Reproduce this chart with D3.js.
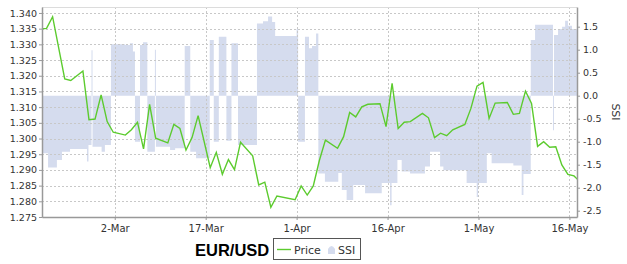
<!DOCTYPE html>
<html>
<head>
<meta charset="utf-8">
<script src="https://cdn.jsdelivr.net/npm/d3@7"></script>
<style>
  body { margin: 0; background: #fff; }
  svg { display: block; }
  text { font-family: "DejaVu Sans", sans-serif; fill: #333; }
</style>
</head>
<body>
<svg id="chart" width="627" height="264"></svg>
<script>
// EUR/USD price (daily) and SSI sentiment (step area)
const priceDates = [
  '2013-02-18', '2013-02-19', '2013-02-20', '2013-02-22', '2013-02-23', '2013-02-25',
  '2013-02-26', '2013-02-27', '2013-02-28', '2013-03-01', '2013-03-02', '2013-03-04',
  '2013-03-05', '2013-03-06', '2013-03-07', '2013-03-08', '2013-03-09', '2013-03-11',
  '2013-03-12', '2013-03-13', '2013-03-14', '2013-03-15', '2013-03-16', '2013-03-18',
  '2013-03-19', '2013-03-20', '2013-03-21', '2013-03-22', '2013-03-23', '2013-03-25',
  '2013-03-26', '2013-03-27', '2013-03-28', '2013-03-29', '2013-04-01', '2013-04-02',
  '2013-04-03', '2013-04-04', '2013-04-05', '2013-04-06', '2013-04-08', '2013-04-09',
  '2013-04-10', '2013-04-11', '2013-04-12', '2013-04-13', '2013-04-15', '2013-04-16',
  '2013-04-17', '2013-04-18', '2013-04-19', '2013-04-20', '2013-04-22', '2013-04-23',
  '2013-04-24', '2013-04-25', '2013-04-26', '2013-04-27', '2013-04-29', '2013-04-30',
  '2013-05-01', '2013-05-02', '2013-05-03', '2013-05-04', '2013-05-06', '2013-05-07',
  '2013-05-08', '2013-05-09', '2013-05-10', '2013-05-11', '2013-05-12', '2013-05-13',
  '2013-05-14', '2013-05-15', '2013-05-16', '2013-05-17', '2013-05-18'
];
const priceValues = [
  1.3349, 1.3351, 1.3388, 1.3190, 1.3185, 1.3215,
  1.3060, 1.3062, 1.3139, 1.3054, 1.3020, 1.3011,
  1.3028, 1.3052, 1.2967, 1.3109, 1.3001, 1.2986,
  1.3045, 1.3032, 1.2963, 1.3003, 1.3073, 1.2907,
  1.2956, 1.2886, 1.2933, 1.2901, 1.2988, 1.2945,
  1.2852, 1.2861, 1.2781, 1.2817, 1.2805, 1.2849,
  1.2820, 1.2849, 1.2930, 1.2995, 1.2969, 1.3006,
  1.3083, 1.3069, 1.3101, 1.3109, 1.3111, 1.3038,
  1.3176, 1.3032, 1.3052, 1.3054, 1.3080, 1.3066,
  1.3003, 1.3017, 1.3009, 1.3028, 1.3045, 1.3096,
  1.3167, 1.3179, 1.3064, 1.3113, 1.3115, 1.3077,
  1.3080, 1.3151, 1.3112, 1.2975, 1.2990, 1.2972,
  1.2974, 1.2916, 1.2886, 1.2881, 1.2862
];

// SSI readings, each holds until the next one
const ssiTimes = [
  '2013-02-18T00', '2013-02-19T00', '2013-02-20T11', '2013-02-21T07', '2013-02-22T15',
  '2013-02-25T10', '2013-02-25T16', '2013-02-26T04', '2013-02-26T08', '2013-02-27T20',
  '2013-02-28T09', '2013-03-01T09', '2013-03-03T17', '2013-03-04T12', '2013-03-05T00',
  '2013-03-05T08', '2013-03-06T04', '2013-03-06T16', '2013-03-07T09', '2013-03-08T15',
  '2013-03-08T19', '2013-03-11T03', '2013-03-11T23', '2013-03-13T13', '2013-03-14T11',
  '2013-03-15T10', '2013-03-17T16', '2013-03-18T08', '2013-03-19T04', '2013-03-20T10',
  '2013-03-21T06', '2013-03-22T08', '2013-03-25T11', '2013-03-26T11', '2013-03-27T07',
  '2013-03-27T23', '2013-03-28T11', '2013-04-01T00', '2013-04-01T06', '2013-04-02T09',
  '2013-04-03T01', '2013-04-03T13', '2013-04-04T05', '2013-04-04T14', '2013-04-05T16',
  '2013-04-07T21', '2013-04-08T11', '2013-04-09T06', '2013-04-10T08', '2013-04-12T07',
  '2013-04-15T01', '2013-04-16T10', '2013-04-16T16', '2013-04-17T15', '2013-04-18T08',
  '2013-04-19T17', '2013-04-22T04', '2013-04-23T00', '2013-04-24T16', '2013-04-25T05',
  '2013-04-29T01', '2013-04-30T17', '2013-04-30T22', '2013-05-02T09', '2013-05-03T04',
  '2013-05-06T18', '2013-05-08T03', '2013-05-08T10', '2013-05-09T15', '2013-05-10T08',
  '2013-05-13T07', '2013-05-13T11', '2013-05-14T03', '2013-05-14T19', '2013-05-15T07',
  '2013-05-15T18', '2013-05-16T10', '2013-05-17T06'
];
const ssiValues = [
  -1.25, -1.56, -1.40, -1.22, -1.16,
  -1.43, -1.07, 0.99, -1.11, -1.22,
  -1.07, 1.12, 1.10, 1.14, 0.96,
  -1.00, 1.10, 1.16, -1.22, 1.00,
  -1.11, -1.18, -1.14, 1.08, -1.22,
  -1.36, 1.21, -1.00, 1.28, -0.98,
  1.14, -1.07, 1.57, 1.62, 1.72,
  1.60, 1.30, 1.45, -1.00, 1.28,
  1.03, 1.08, 1.35, -1.69, -1.87,
  -1.68, -2.05, -2.27, -1.94, -2.12,
  -1.90, -2.38, -1.90, -1.40, -1.65,
  -1.69, -1.54, -1.22, -1.54, -1.62,
  -1.90, -2.20, -1.90, -1.25, -1.47,
  -1.52, -2.16, -1.70, 1.21, 1.54,
  -0.75, 1.32, 1.45, 1.50, 1.63,
  1.52, 1.45, 1.45
];

const xTicks = ['2013-03-02', '2013-03-17', '2013-04-01', '2013-04-16', '2013-05-01', '2013-05-16'];
const priceTicks = [1.275, 1.280, 1.285, 1.290, 1.295, 1.300, 1.305, 1.310, 1.315, 1.320, 1.325, 1.330, 1.335, 1.340];
const ssiTicks = [-2.5, -2.0, -1.5, -1.0, -0.5, 0.0, 0.5, 1.0, 1.5];

const parseDay = d3.timeParse('%Y-%m-%d');
const parseHour = d3.timeParse('%Y-%m-%dT%H');

const plotLeft = 42, plotRight = 577, plotTop = 7, plotBottom = 217;

const svg = d3.select('#chart');

const x = d3.scaleTime()
  .domain([new Date(2013, 1, 18), new Date(2013, 4, 17, 6)])
  .range([plotLeft, plotRight]);
const yPrice = d3.scaleLinear().domain([1.275, 1.3419]).range([plotBottom, plotTop]);
const ySsi = d3.scaleLinear().domain([-2.637, 1.928]).range([plotBottom, plotTop]);

// price closes are stamped a few hours before midnight
const priceData = priceDates.map((d, i) => ({ t: d3.timeHour.offset(parseDay(d), -6), v: priceValues[i] }));
const ssiData = ssiTimes.map((d, i) => ({ t: parseHour(d), v: ssiValues[i] }));

svg.append('defs').append('clipPath').attr('id', 'plotClip')
  .append('rect')
  .attr('x', plotLeft).attr('y', plotTop)
  .attr('width', plotRight - plotLeft).attr('height', plotBottom - plotTop);

// SSI area
svg.append('path')
  .datum(ssiData)
  .attr('clip-path', 'url(#plotClip)')
  .attr('fill', '#d5dcee')
  .attr('d', d3.area()
    .curve(d3.curveStepAfter)
    .x(d => x(d.t))
    .y0(ySsi(0))
    .y1(d => ySsi(d.v)));

// grid
const grid = svg.append('g')
  .attr('stroke', '#c8c8c8')
  .attr('stroke-width', 1)
  .attr('stroke-dasharray', '2,2');

grid.selectAll('.hg')
  .data(priceTicks)
  .join('line')
  .attr('x1', plotLeft).attr('x2', plotRight)
  .attr('y1', d => Math.round(yPrice(d)) + 0.5)
  .attr('y2', d => Math.round(yPrice(d)) + 0.5);

grid.selectAll('.vg')
  .data(xTicks)
  .join('line')
  .attr('x1', d => Math.round(x(parseDay(d))) + 0.5)
  .attr('x2', d => Math.round(x(parseDay(d))) + 0.5)
  .attr('y1', plotTop).attr('y2', plotBottom);

// price line
svg.append('path')
  .datum(priceData)
  .attr('clip-path', 'url(#plotClip)')
  .attr('fill', 'none')
  .attr('stroke', '#5ccb2e')
  .attr('stroke-width', 1.4)
  .attr('d', d3.line()
    .x(d => x(d.t))
    .y(d => yPrice(d.v)));

// plot top edge
svg.append('line')
  .attr('x1', plotLeft).attr('x2', plotRight)
  .attr('y1', plotTop + 0.5).attr('y2', plotTop + 0.5)
  .attr('stroke', '#dcdcdc');

// axes
const xAxis = svg.append('g')
  .attr('transform', `translate(0,${plotBottom})`)
  .call(d3.axisBottom(x)
    .tickValues(xTicks.map(parseDay))
    .tickFormat(d3.timeFormat('%-d-%b'))
    .tickSizeInner(3).tickSizeOuter(0));

const yAxisL = svg.append('g')
  .attr('transform', `translate(${plotLeft},0)`)
  .call(d3.axisLeft(yPrice)
    .tickValues(priceTicks)
    .tickFormat(d3.format('.3f'))
    .tickSizeInner(3).tickSizeOuter(0));

const yAxisR = svg.append('g')
  .attr('transform', `translate(${plotRight},0)`)
  .call(d3.axisRight(ySsi)
    .tickValues(ssiTicks)
    .tickFormat(d => d.toFixed(1))
    .tickSizeInner(3).tickSizeOuter(0));

[xAxis, yAxisL, yAxisR].forEach(g => {
  g.select('.domain').attr('stroke', '#999').attr('stroke-width', 1.5);
  g.selectAll('.tick line').attr('stroke', '#999');
  g.selectAll('.tick text').attr('fill', '#333').style('font-family', '"DejaVu Sans", sans-serif');
});
xAxis.selectAll('.tick text').style('font-size', '10px').attr('dy', '0.9em');
yAxisL.selectAll('.tick text').style('font-size', '9.5px').attr('x', -5);
yAxisR.selectAll('.tick text').style('font-size', '9.5px').attr('x', 6);

// right axis title
svg.append('text')
  .attr('transform', 'translate(612,112) rotate(90)')
  .attr('text-anchor', 'middle')
  .style('font-size', '11px')
  .text('SSI');

// bottom title + legend
svg.append('text')
  .attr('x', 195).attr('y', 256)
  .style('font-family', '"Liberation Sans", Arial, sans-serif')
  .style('font-size', '16.5px')
  .style('font-weight', 'bold')
  .style('fill', '#000')
  .text('EUR/USD');

const legend = svg.append('g');
legend.append('rect')
  .attr('x', 273.5).attr('y', 238.5)
  .attr('width', 87).attr('height', 21)
  .attr('fill', '#fff')
  .attr('stroke', '#555');

legend.append('line')
  .attr('x1', 277).attr('x2', 291)
  .attr('y1', 249.5).attr('y2', 249.5)
  .attr('stroke', '#5ccb2e')
  .attr('stroke-width', 1.4);

legend.append('text')
  .attr('x', 294).attr('y', 253.5)
  .style('font-size', '11px')
  .text('Price');

legend.append('path')
  .attr('d', 'M328,254 L328,249 Q331.5,243 335,249 L335,254 Z')
  .attr('fill', '#d5dcee');

legend.append('text')
  .attr('x', 338).attr('y', 253.5)
  .style('font-size', '11px')
  .text('SSI');
</script>
</body>
</html>
